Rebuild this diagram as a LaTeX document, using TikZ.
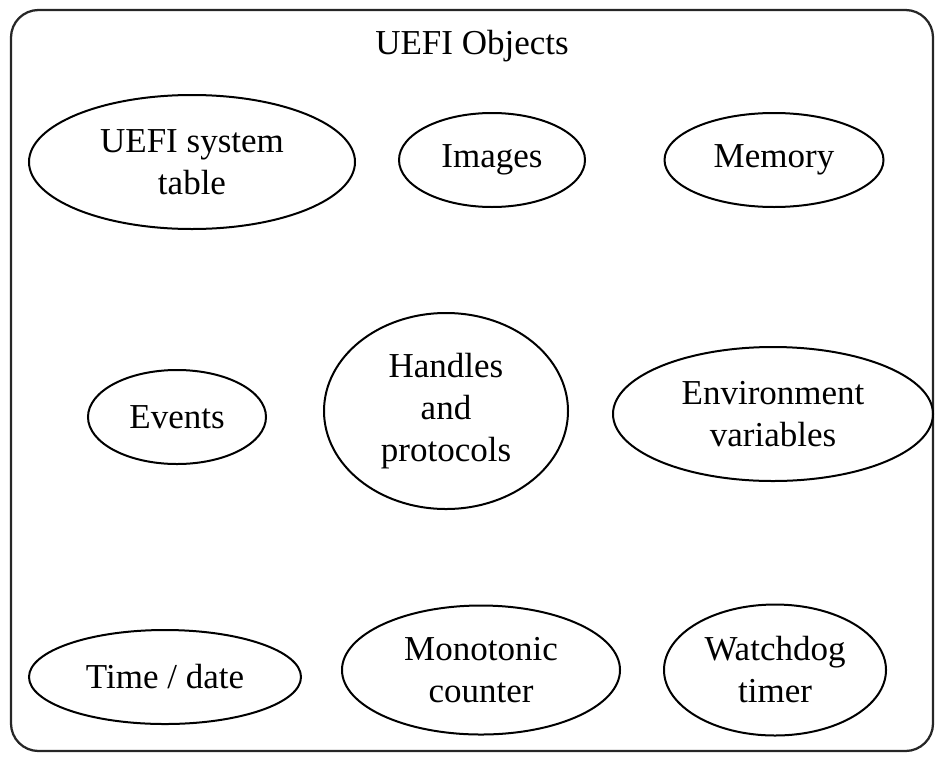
\documentclass[tikz,border=0pt]{standalone}
\usepackage{fontspec}
\setmainfont{Liberation Serif}
\usetikzlibrary{shapes.geometric}
\tikzset{%
  % Specifications for style of nodes:
            obj/.style = {ellipse, draw=black, line width=0.8pt, inner sep=0pt,
                          align=center, font=\fontsize{14}{16.8}\selectfont},
            size/.style 2 args = {minimum width=#1, minimum height=#2},
            caption/.style = {font=\fontsize{14}{16.8}\selectfont}
}
\begin{document}
\begin{tikzpicture}[x=0.4pt, y=-0.4pt]
                        \useasboundingbox (0,0) rectangle (944,760);
                        \draw[rounded corners=11pt, line width=0.9pt, black!85] (11,10) rectangle (933,751);
                        \node[caption] (title) at (472,46) {UEFI Objects};
                        \node[obj, size={130.4pt}{53.6pt}] (systab) at (192,162) {UEFI system\\table};
                        \node[obj, size={74.4pt}{37.6pt}] (images) at (492,160) {Images};
                        \node[obj, size={87.6pt}{37.6pt}] (memory) at (774,160) {Memory};
                        \node[obj, size={71.2pt}{37.6pt}] (events) at (177,417) {Events};
                        \node[obj, size={97.6pt}{78.4pt}] (handles) at (446,411) {Handles\\and\\protocols};
                        \node[obj, size={128pt}{53.6pt}] (envvars) at (773,414) {Environment\\variables};
                        \node[obj, size={108.8pt}{37.6pt}] (timedate) at (165,677) {Time / date};
                        \node[obj, size={111.2pt}{51.6pt}] (counter) at (481,670) {Monotonic\\counter};
                        \node[obj, size={88.8pt}{52.4pt}] (watchdog) at (775,670) {Watchdog\\timer};
                    \end{tikzpicture}
\end{document}
